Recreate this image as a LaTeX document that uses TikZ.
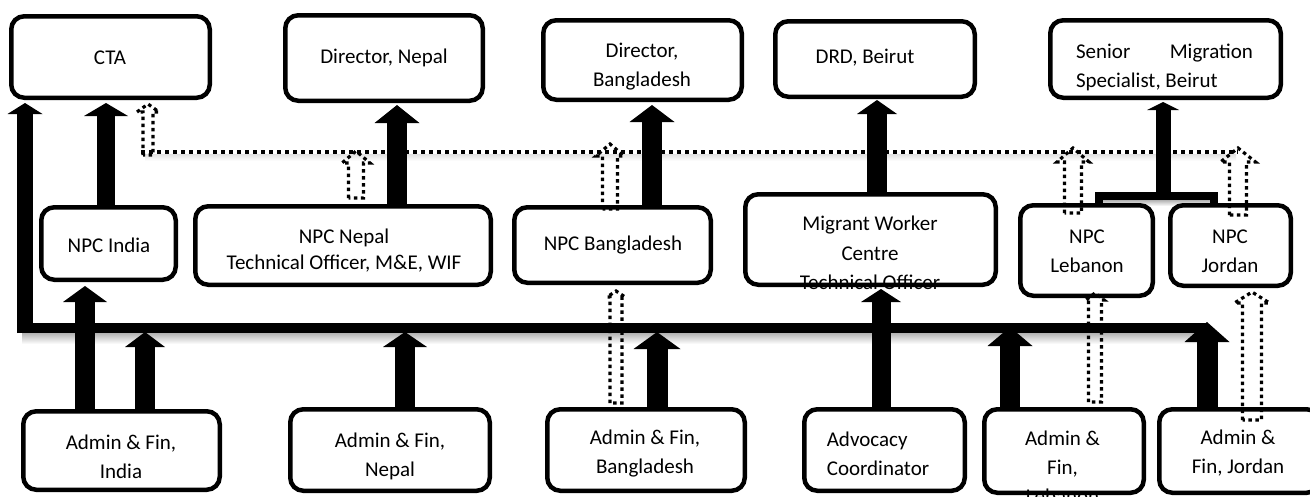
\documentclass[tikz,border=0pt]{standalone}
\usepackage{fontspec}
\setmainfont{Carlito}
\usetikzlibrary{arrows.meta,calc}
\newcommand\dotarr[5]{%
  \draw[dotbox] ($(#1)+(-#3,0)$) -- ($(#2)+(-#3,#5)$) -- ($(#2)+(-#4,#5)$) -- (#2)
    -- ($(#2)+(#4,#5)$) -- ($(#2)+(#3,#5)$) -- ($(#1)+(#3,0)$) -- cycle;}
\begin{document}
\begin{tikzpicture}[x=1pt,y=-1pt,
  box/.style={draw, line width=4.5pt, rounded corners=13pt, fill=white, inner sep=0pt},
  txt/.style={font=\fontsize{21}{29}\selectfont, align=center, inner sep=0pt},
  blk/.style n args={3}{line width=#1pt, -{Triangle[width=#2pt,length=#3pt,line width=0pt]}},
  dotbox/.style={line width=3.2pt, dash pattern=on 3.5pt off 3.5pt, line join=miter},
  dotline/.style={line width=4pt, dash pattern=on 4pt off 4pt}]

\useasboundingbox (0,0) rectangle (1310,496);
\fill[white] (0,0) rectangle (1310,496);

% free ends
\coordinate (busW) at (17,328);
\coordinate (busE) at (1207,328);
\coordinate (busB) at (0,332);
\coordinate (Lfoot) at (25,333);
\coordinate (dotW) at (141,152);
\coordinate (dotE) at (1238,152);
\coordinate (tee) at (1163,196);

% shadows
\shade[top color=black!30, bottom color=white] (22,333) rectangle (1203,344);
\shade[top color=black!12, bottom color=white] (145,154) rectangle (1236,161);
\shade[top color=black!30, bottom color=white] (1103,200) rectangle (1214,206);

% bus lines
\draw[line width=10pt] (busW) -- (busE);
\draw[dotline] (dotW) -- (dotE);

% top row
\node[box, minimum width=198.5pt, minimum height=81.5pt] (cta) at (110.5,57) {};
\node[box, minimum width=197.5pt, minimum height=85.5pt] (dirNepal) at (384,58) {};
\node[box, minimum width=198.5pt, minimum height=79.5pt] (dirBang) at (642.5,60) {};
\node[box, minimum width=199.5pt, minimum height=75.5pt] (drd) at (875,59) {};
\node[box, minimum width=230.5pt, minimum height=77.5pt] (senior) at (1165.5,59) {};
% middle row
\node[box, minimum width=134.5pt, minimum height=72.5pt] (npcIndia) at (108.5,243.5) {};
\node[box, minimum width=295.5pt, minimum height=78.5pt] (npcNepal) at (343,245.5) {};
\node[box, minimum width=196.5pt, minimum height=75.5pt] (npcBang) at (612.5,245) {};
\node[box, minimum width=250.5pt, minimum height=90.5pt] (mwc) at (870.5,239.5) {};
\node[box, minimum width=132.5pt, minimum height=90.5pt] (npcLeb) at (1086.5,250.5) {};
\node[box, minimum width=120.5pt, minimum height=80.5pt] (npcJor) at (1230.5,245.5) {};
% bottom row
\node[box, minimum width=196.5pt, minimum height=78.5pt] (adminIndia) at (121.5,450.5) {};
\node[box, minimum width=199.5pt, minimum height=81.5pt] (adminNepal) at (390,450) {};
\node[box, minimum width=197.5pt, minimum height=81.5pt] (adminBang) at (646,450) {};
\node[box, minimum width=160.5pt, minimum height=81.5pt] (advocacy) at (884.5,450) {};
\node[box, minimum width=159.5pt, minimum height=83.5pt] (adminLeb) at (1064,451) {};
\node[box, minimum width=160.5pt, minimum height=83.5pt] (adminJor) at (1239.5,451) {};

% texts
\node[txt] (ctaT) at (110,58) {CTA};
\node[txt] (dirNepalT) at (384,58) {Director, Nepal};
\node[txt] (dirBangT) at (642,67) {Director,\\Bangladesh};
\node[txt] (drdT) at (865,58) {DRD, Beirut};
\node[txt, align=left] (seniorT) at (1164.5,67) {\makebox[177pt][s]{Senior Migration}\\Specialist, Beirut};
\node[txt] (npcIndiaT) at (109,245) {NPC India};
\node[txt, font=\fontsize{21}{26}\selectfont] (npcNepalT) at (344,251) {NPC Nepal\\Technical Officer, M\&E, WIF};
\node[txt] (npcBangT) at (613,245) {NPC Bangladesh};
\node[txt, font=\fontsize{21}{29.5}\selectfont] (mwcT) at (870,253) {Migrant Worker\\Centre\\Technical Officer};
\node[txt] (npcLebT) at (1087,251) {NPC\\Lebanon};
\node[txt] (npcJorT) at (1230,251) {NPC\\Jordan};
\node[txt] (adminIndiaT) at (121,456.5) {Admin \& Fin,\\India};
\node[txt] (adminNepalT) at (390,456.5) {Admin \& Fin,\\Nepal};
\node[txt] (adminBangT) at (645,453.5) {Admin \& Fin,\\Bangladesh};
\node[txt, align=left] (advocacyT) at (878,453.5) {Advocacy\\Coordinator};
\node[txt] (adminLebT) at (1062.5,467) {Admin \&\\Fin,\\Lebanon};
\node[txt] (adminJorT) at (1238,453.5) {Admin \&\\Fin, Jordan};

% solid block arrows
\draw[blk={20}{44}{16}] ([xshift=-36.5pt]adminIndia.north) -- ([xshift=-23.5pt,yshift=-4pt]npcIndia.south);
\draw[blk={20}{40}{15}] ([xshift=23.5pt]adminIndia.north) -- ($(busB)+(145,0)$);
\draw[blk={20}{44}{15}] ([xshift=15pt]adminNepal.north) -- ($(busB)+(405,0)$);
\draw[blk={21}{47}{17}] ([xshift=11pt]adminBang.north) -- ($(busB)+(657,0)$);
\draw[blk={19}{40}{13}] ([xshift=-3.5pt]advocacy.north) -- ([xshift=10.5pt,yshift=-2pt]mwc.south);
\draw[blk={20}{45}{19}] ([xshift=-54pt]adminLeb.north) -- ($(busB)+(1010,-5)$);
\draw[blk={21}{45}{20}] ([xshift=-32.5pt]adminJor.north) -- ($(busB)+(1207,-10)$);
\draw[blk={18}{44}{13}] ([xshift=-2.5pt]npcIndia.north) -- ([xshift=-4.5pt,yshift=-3pt]cta.south);
\draw[blk={16}{35}{11}] (Lfoot) -- ([xshift=-85.5pt,yshift=-3pt]cta.south);
\draw[blk={20}{45}{18}] ([xshift=54pt]npcNepal.north) -- ([xshift=13pt,yshift=-2pt]dirNepal.south);
\draw[blk={20}{45}{17}] ([xshift=39.5pt]npcBang.north) -- ([xshift=9.5pt,yshift=-3pt]dirBang.south);
\draw[blk={20}{40}{14}] ([xshift=6.5pt]mwc.north) -- ([xshift=2pt,yshift=-1pt]drd.south);
\draw[line width=8pt] ([xshift=12.5pt]npcLeb.north) |- (tee) -| ([xshift=-16.5pt]npcJor.north);
\draw[blk={15}{32}{8}] (tee) -- ([xshift=-2.5pt,yshift=-2pt]senior.south);

% dotted outline arrows
\coordinate (d1s) at (148,155);
\coordinate (d1t) at ([xshift=37.5pt,yshift=-4pt]cta.south);
\coordinate (d2s) at ([xshift=13pt,yshift=6pt]npcNepal.north);
\coordinate (d2t) at (356,151);
\coordinate (d3s) at ([xshift=-2.5pt,yshift=-4pt]npcBang.north);
\coordinate (d3t) at (610,144);
\coordinate (d4s) at ([xshift=-30pt,yshift=4pt]adminBang.north);
\coordinate (d4t) at ([xshift=3.5pt,yshift=-6pt]npcBang.south);
\coordinate (d5s) at ([xshift=-13.5pt,yshift=-10pt]npcLeb.north);
\coordinate (d5t) at (1073,148);
\coordinate (d6s) at ([xshift=7.5pt,yshift=-12pt]npcJor.north);
\coordinate (d6t) at (1238,148);
\coordinate (d7s) at ([xshift=31pt,yshift=5pt]adminLeb.north);
\coordinate (d7t) at ([xshift=8.5pt,yshift=5pt]npcLeb.south);
\coordinate (d8s) at ([xshift=12.5pt,yshift=-13pt]adminJor.north);
\coordinate (d8t) at ([xshift=21.5pt,yshift=-4pt]npcJor.south);
\dotarr{d1s}{d1t}{5}{11}{8}
\dotarr{d2s}{d2t}{7.5}{14}{12}
\dotarr{d3s}{d3t}{7.5}{14}{12}
\dotarr{d4s}{d4t}{6}{9}{6}
\dotarr{d5s}{d5t}{8.5}{16}{14}
\dotarr{d6s}{d6t}{8.5}{17.5}{14}
\dotarr{d7s}{d7t}{6.5}{9}{7}
\dotarr{d8s}{d8t}{9.5}{17.5}{11}
\end{tikzpicture}
\end{document}
